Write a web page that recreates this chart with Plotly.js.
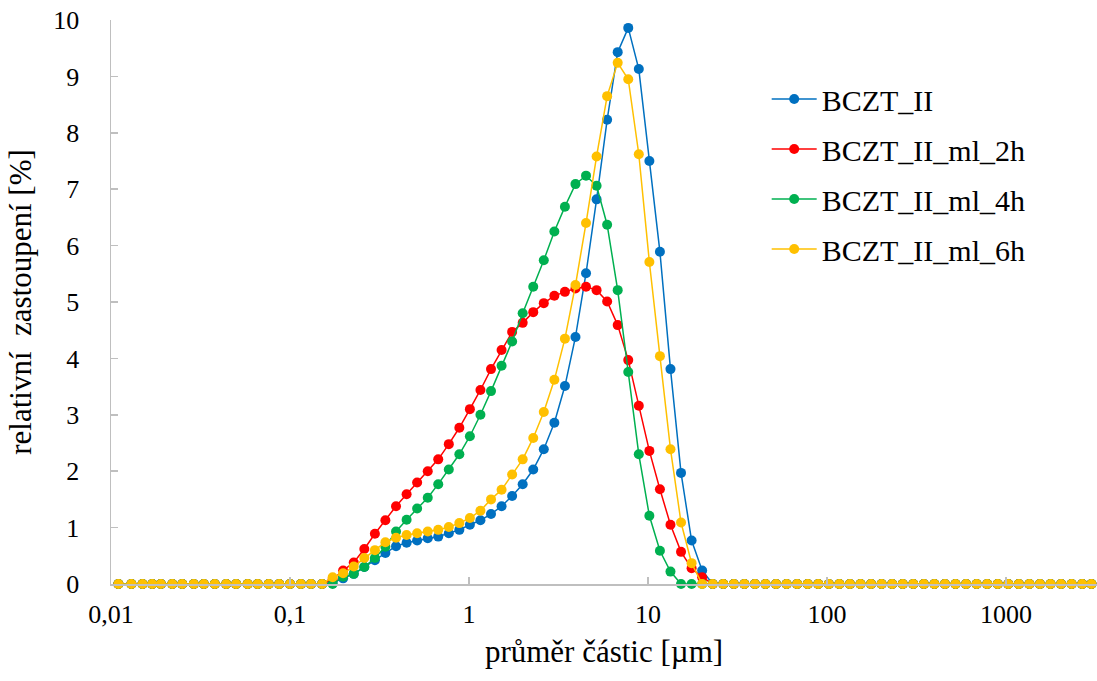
<!DOCTYPE html>
<html>
<head>
<meta charset="utf-8">
<script src="https://cdn.plot.ly/plotly-3.0.1.min.js"></script>
<style>html,body{margin:0;padding:0;background:#fff;}#chart{width:1097px;height:681px;}</style>
</head>
<body>
<div id="chart"></div>
<script>
// particle size classes [µm]
const sizes = [0.011,0.013,0.015,0.017,0.019,0.022,0.025,0.029,0.033,0.038,
  0.044,0.050,0.058,0.066,0.076,0.087,0.100,0.115,0.131,0.151,
  0.173,0.198,0.227,0.260,0.298,0.341,0.391,0.448,0.513,0.588,
  0.673,0.771,0.883,1.011,1.158,1.327,1.520,1.741,1.994,2.284,
  2.616,2.997,3.433,3.932,4.504,5.159,5.909,6.768,7.753,8.880,
  10.172,11.651,13.346,15.287,17.511,20.057,22.974,26.316,30.143,34.527,
  39.549,45.301,51.890,59.437,68.081,77.983,89.325,102.315,117.195,134.240,
  153.763,176.125,201.741,231.081,264.690,303.186,347.277,397.784,455.638,521.904,
  597.807,684.750,784.340,898.415,1029.079,1178.769,1350.224,1546.568,1771.524,2029.296,
  2324.426,2662.500,3000.000];

const bczt_II = [0,0,0,0,0,0,0,0,0,0, 0,0,0,0,0,0,0,0,0,0,
  0.02,0.10,0.18,0.30,0.42,0.55,0.67,0.73,0.77,0.81,
  0.84,0.90,0.96,1.05,1.13,1.24,1.38,1.56,1.77,2.03,
  2.39,2.86,3.51,4.38,5.51,6.82,8.23,9.43,9.86,9.13,
  7.50,5.89,3.81,1.97,0.77,0.24,0,0,0,0,
  0,0,0,0,0,0,0,0,0,0, 0,0,0,0,0,0,0,0,0,0, 0,0,0,0,0,0,0,0,0,0, 0,0,0];

const bczt_II_ml_2h = [0,0,0,0,0,0,0,0,0,0, 0,0,0,0,0,0,0,0,0,0,
  0.08,0.24,0.38,0.62,0.89,1.13,1.38,1.59,1.80,2.00,
  2.21,2.48,2.77,3.10,3.44,3.81,4.15,4.47,4.63,4.82,
  4.98,5.11,5.18,5.24,5.27,5.21,5.01,4.59,3.97,3.16,
  2.36,1.68,1.05,0.57,0.28,0.12,0,0,0,0,
  0,0,0,0,0,0,0,0,0,0, 0,0,0,0,0,0,0,0,0,0, 0,0,0,0,0,0,0,0,0,0, 0,0,0];

const bczt_II_ml_4h = [0,0,0,0,0,0,0,0,0,0, 0,0,0,0,0,0,0,0,0,0,
  0,0.13,0.18,0.30,0.46,0.66,0.93,1.14,1.34,1.53,
  1.77,2.03,2.30,2.62,3.00,3.42,3.87,4.30,4.80,5.27,
  5.74,6.25,6.69,7.09,7.24,7.06,6.37,5.21,3.76,2.30,
  1.21,0.59,0.22,0,0,0,0,0,0,0,
  0,0,0,0,0,0,0,0,0,0, 0,0,0,0,0,0,0,0,0,0, 0,0,0,0,0,0,0,0,0,0, 0,0,0];

const bczt_II_ml_6h = [0,0,0,0,0,0,0,0,0,0, 0,0,0,0,0,0,0,0,0,0,
  0.12,0.19,0.31,0.46,0.60,0.74,0.82,0.87,0.90,0.93,
  0.96,1.01,1.08,1.17,1.30,1.50,1.67,1.94,2.21,2.59,
  3.05,3.62,4.35,5.30,6.40,7.58,8.65,9.24,8.95,7.62,
  5.71,4.04,2.39,1.09,0.37,0,0,0,0,0,
  0,0,0,0,0,0,0,0,0,0, 0,0,0,0,0,0,0,0,0,0, 0,0,0,0,0,0,0,0,0,0, 0,0,0];

const seriesNames = ['BCZT_II','BCZT_II_ml_2h','BCZT_II_ml_4h','BCZT_II_ml_6h'];
const seriesValues = [bczt_II, bczt_II_ml_2h, bczt_II_ml_4h, bczt_II_ml_6h];
const seriesColors = ['#0070C0','#FF0000','#00B050','#FFC000'];

const xTickVals = [0.01,0.1,1,10,100,1000];
const xTickText = ['0,01','0,1','1','10','100','1000'];
const yTickVals = [0,1,2,3,4,5,6,7,8,9,10];

const traces = seriesNames.map((n,i)=>({
  type:'scatter', mode:'lines+markers', name:n, legendgroup:n,
  x:sizes, y:seriesValues[i],
  line:{color:seriesColors[i], width:1.5},
  marker:{color:seriesColors[i], size:10},
  cliponaxis:false
}));

const FAM = 'Times New Roman, Liberation Serif, Tinos, DejaVu Serif, serif';
function f(size){ return {family:FAM, size:size, color:'#000'}; }

const layout = {
  width:1097, height:681,
  margin:{l:111, r:0, t:20, b:97},
  paper_bgcolor:'#fff', plot_bgcolor:'#fff',
  font:f(26),
  showlegend:true,
  legend:{x:0.665, y:0.906, xanchor:'left', yanchor:'top',
    font:f(30), tracegroupgap:8,
    bgcolor:'rgba(0,0,0,0)', itemwidth:45},
  xaxis:{type:'log', range:[-2, 3.508], tickvals:xTickVals, ticktext:xTickText,
    showgrid:false, zeroline:false, showline:true, linecolor:'#BFBFBF', linewidth:1.5,
    ticks:'inside', ticklen:7, tickcolor:'#BFBFBF', tickwidth:1.5,
    tickfont:f(26), ticklabelstandoff:6,
    title:{text:'průměr částic [µm]', font:f(31), standoff:12}},
  yaxis:{range:[0,10], tickvals:yTickVals,
    showgrid:false, zeroline:false, showline:true, linecolor:'#BFBFBF', linewidth:1.5,
    ticks:'inside', ticklen:7, tickcolor:'#BFBFBF', tickwidth:1.5,
    tickfont:f(26), ticklabelstandoff:25,
    title:{text:'relativní  zastoupení [%]', font:f(31), standoff:12}}
};

Plotly.newPlot('chart', traces, layout, {displayModeBar:false, staticPlot:true});
</script>
</body>
</html>
